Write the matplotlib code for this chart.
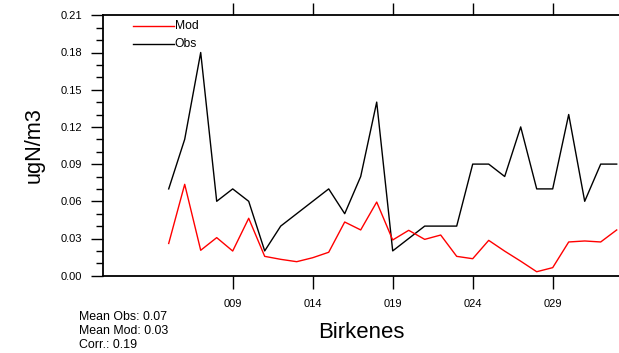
import matplotlib
matplotlib.use("Agg")
import matplotlib.pyplot as plt
from matplotlib.lines import Line2D
from matplotlib.ticker import MultipleLocator, FixedLocator

plt.rcParams['font.family'] = ['Liberation Sans', 'DejaVu Sans']

days = list(range(5, 34))
obs = [0.07, 0.11, 0.18, 0.06, 0.07, 0.06, 0.02, 0.04, 0.05, 0.06, 0.07, 0.05, 0.08, 0.14,
       0.02, 0.03, 0.04, 0.04, 0.04, 0.09, 0.09, 0.08, 0.12, 0.07, 0.07, 0.13, 0.06, 0.09, 0.09]
mod = [0.026, 0.0737, 0.0205, 0.0307, 0.0199, 0.0463, 0.0156, 0.0132, 0.0113, 0.0145, 0.0189,
       0.0433, 0.0369, 0.0594, 0.0288, 0.0366, 0.0293, 0.0328, 0.0156, 0.0137, 0.0285, 0.0198,
       0.0117, 0.0032, 0.0065, 0.0272, 0.028, 0.0272, 0.0369]
xtick_pos = [9, 14, 19, 24, 29]
xtick_labels = ["009", "014", "019", "024", "029"]
ytick_vals = [0.00, 0.03, 0.06, 0.09, 0.12, 0.15, 0.18, 0.21]
stats = ["Mean Obs: 0.07", "Mean Mod: 0.03", "Corr.: 0.19"]
station = "Birkenes"
ylabel = "ugN/m3"

W, H = 619, 353
fig = plt.figure(figsize=(W / 100, H / 100), dpi=100)
L, R, T, B = 103.3, 619.0, 15.3, 275.7
ax = fig.add_axes([L / W, 1 - B / H, (R - L) / W, (B - T) / H])

ax.plot(days, obs, color='black', lw=1.0)
ax.plot(days, mod, color='red', lw=1.0)

ax.set_ylim(0, 0.21)
ax.set_xlim(9 - (232.7 - L) / 16, 9 + (R - 232.7) / 16)

ax.yaxis.set_major_locator(FixedLocator(ytick_vals))
ax.set_yticklabels([f"{v:.2f}" for v in ytick_vals])
ax.yaxis.set_minor_locator(MultipleLocator(0.01))
ax.xaxis.set_major_locator(FixedLocator(xtick_pos))
ax.set_xticklabels(xtick_labels)

ax.spines['right'].set_visible(False)
for s in ['left', 'top', 'bottom']:
    ax.spines[s].set_linewidth(1.3)

ax.tick_params(axis='y', which='major', direction='out', length=8.6, width=1.0,
               labelsize=8.0, pad=6.5, left=True, right=False)
ax.tick_params(axis='y', which='minor', direction='out', length=5, width=1.0)
ax.tick_params(axis='x', which='major', direction='out', length=9, width=1.0,
               labelsize=8.0, pad=8, top=True, bottom=True)
ax.tick_params(axis='x', which='minor', bottom=False, top=False)

# legend
legend_items = [("Mod", 'red', 26), ("Obs", 'black', 44)]
for name, col, yp in legend_items:
    fig.add_artist(Line2D([133 / W, 174 / W], [1 - yp / H, 1 - yp / H], color=col, lw=1.0))
    fig.text(174.5 / W, 1 - yp / H, name, fontsize=8.75, va='center', ha='left')

fig.text(34 / W, 1 - 145.5 / H, ylabel, rotation=90, fontsize=15.7, ha='center', va='center')
fig.text(361.5 / W, 1 - 337.7 / H, station, fontsize=15.9, ha='center', va='baseline')
for i, s in enumerate(stats):
    fig.text(79 / W, 1 - (320.5 + 14 * i) / H, s, fontsize=8.95, ha='left', va='baseline')

fig.savefig("out.png", dpi=100)
